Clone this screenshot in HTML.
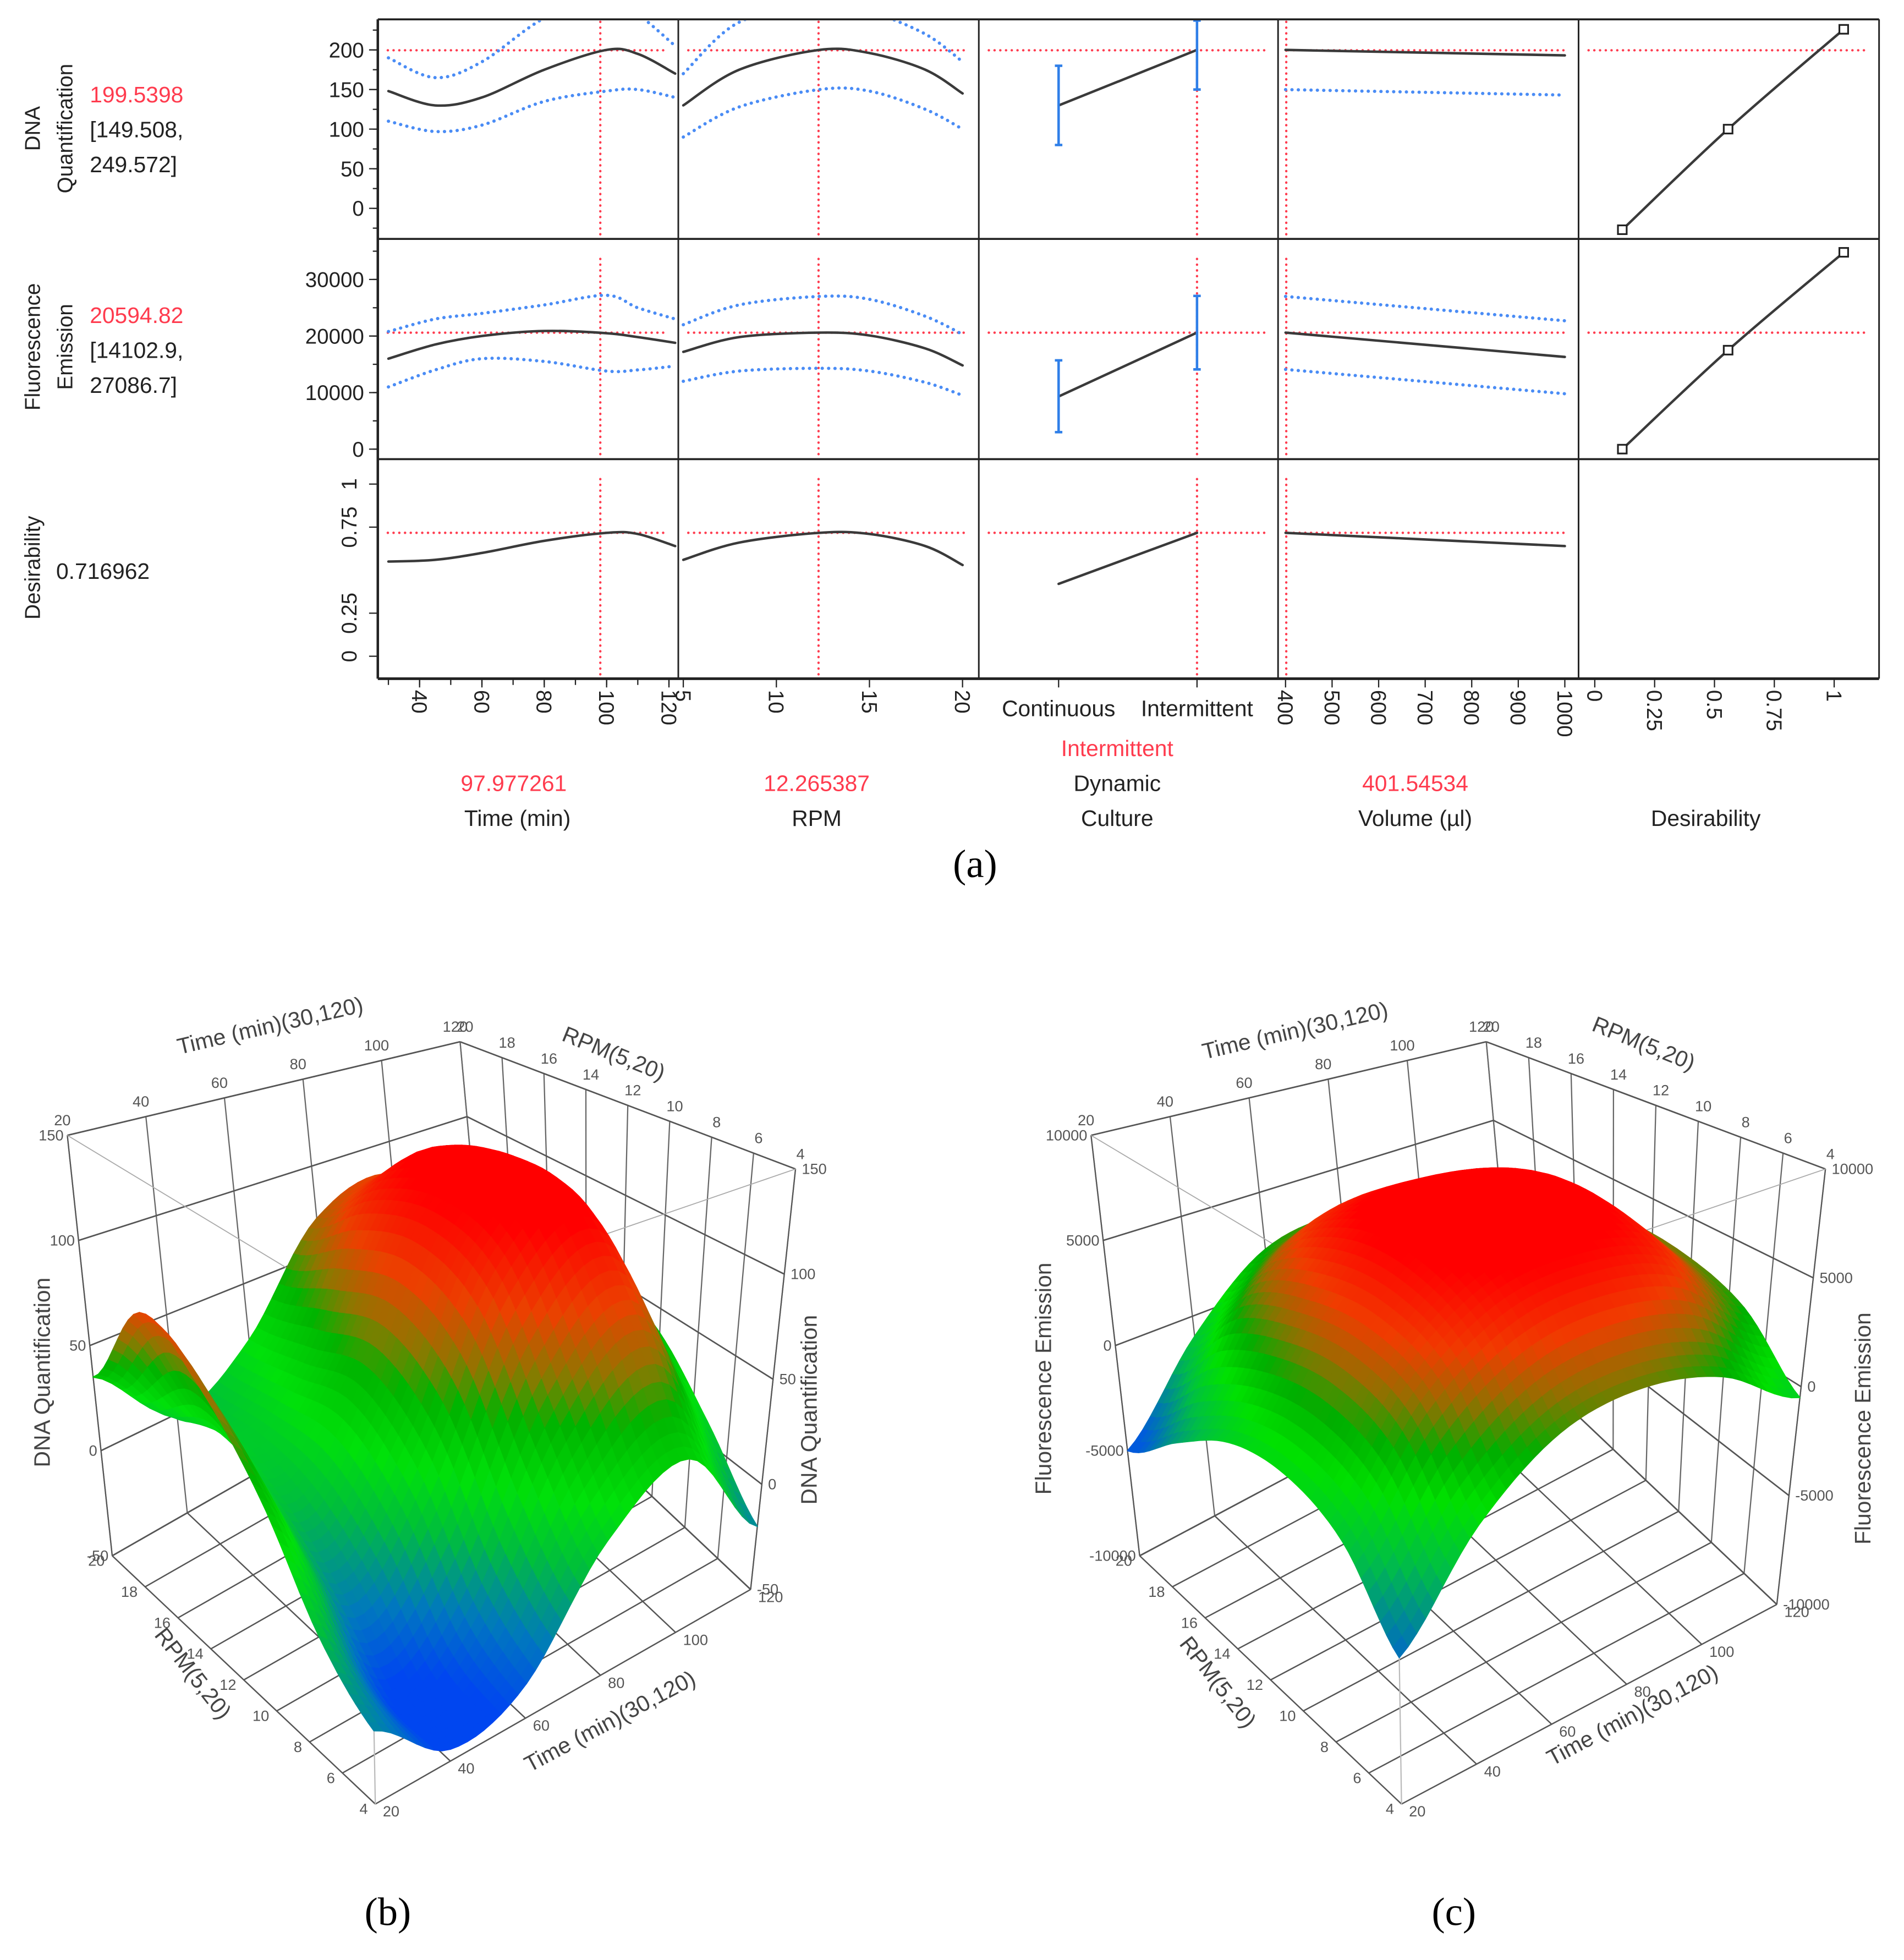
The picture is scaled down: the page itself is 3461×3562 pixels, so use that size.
<!DOCTYPE html>
<html><head><meta charset="utf-8">
<style>
html,body{margin:0;padding:0;background:#fff;}
svg{display:block;}
text{font-family:"Liberation Sans",sans-serif;}
</style></head>
<body>
<svg id="fig" xmlns="http://www.w3.org/2000/svg" width="3461" height="3562" viewBox="0 0 1527 1571" preserveAspectRatio="none">
<rect x="0" y="0" width="1527" height="1571" fill="#fff"/>
<g id="prof"></g>
<g id="plotB"></g>
<g id="plotC"></g>
<text x="782" y="703" font-size="32" text-anchor="middle" style="font-family:'Liberation Serif',serif">(a)</text>
<text x="311" y="1543" font-size="32" text-anchor="middle" style="font-family:'Liberation Serif',serif">(b)</text>
<text x="1166" y="1543" font-size="32" text-anchor="middle" style="font-family:'Liberation Serif',serif">(c)</text>
</svg>
<script>
// ---------- profiler data ----------
const timeX=[30,45,60,80,100,110,122];
const dnaTime=[148,130,140,175,200,195,170];
const dnaTimeHi=[190,165,185,240,265,245,205];
const dnaTimeLo=[110,97,105,135,148,150,140];
const fluTime=[16000,18500,20000,20900,20500,19800,18800];
const fluTimeHi=[20800,23000,24000,25500,27200,25000,23000];
const fluTimeLo=[11000,14000,16000,15500,13800,14000,14700];
const desTime=[0.55,0.56,0.6,0.67,0.717,0.71,0.64];
const rpmX=[5,8,12.3,15,18,20];
const dnaRpm=[130,175,200,196,175,145];
const dnaRpmHi=[170,235,255,248,220,185];
const dnaRpmLo=[90,128,150,148,125,100];
const fluRpm=[17200,19800,20600,20100,17800,14800];
const fluRpmHi=[22000,25500,27000,26500,23500,20300];
const fluRpmLo=[12000,13800,14300,13800,11800,9500];
const desRpm=[0.56,0.66,0.717,0.71,0.64,0.53];
const cultX=[0,1];
const dnaCult=[130,200], dnaCultLo=[80,150], dnaCultHi=[180,250];
const fluCult=[9300,20600], fluCultLo=[3000,14100], fluCultHi=[15700,27100];
const desCult=[0.42,0.717];
const volX=[400,1000];
const dnaVol=[200,193], dnaVolLo=[150,143], dnaVolHi=[250,243];
const fluVol=[20600,16300], fluVolHi=[27000,22700], fluVolLo=[14100,9800];
const desVol=[0.717,0.64];
const desX=[0.115,0.557,1.04];
const dnaDes=[-27,100,226];
const fluDes=[0,17500,34800];
const currentX=[97.977261,12.265387,1,401.54534];
const currentY=[199.5398,20594.82,0.716962];
const timeTicks=[40,60,80,100,120], rpmTicks=[5,10,15,20], volTicks=[400,500,600,700,800,900,1000], desTicks=[0,0.25,0.5,0.75,1];
const dnaTicks=[0,50,100,150,200], fluTicks=[0,10000,20000,30000], desYTicks=[0,0.25,0.75,1];

const NS="http://www.w3.org/2000/svg";
function mk(tag,attrs,parent){const e=document.createElementNS(NS,tag);for(const k in attrs)e.setAttribute(k,attrs[k]);parent.appendChild(e);return e;}
const prof=document.getElementById('prof');

const colX=[303,544,785,1025,1266,1507], rowY=[15.5,191.5,368,544];
const xs=[t=>336.5+2.5*(t-40), r=>548+14.93*(r-5), i=>[849,960][i], v=>1031+0.3733*(v-400), d=>1279+192*d];
const ys=[v=>167-0.635*v, v=>360-0.004533*v, v=>526-138*v];

function smooth(pts){
  if(pts.length<3){return 'M'+pts.map(p=>p[0].toFixed(1)+','+p[1].toFixed(1)).join(' L');}
  let d='M'+pts[0][0]+','+pts[0][1];
  for(let i=0;i<pts.length-1;i++){
    const p0=pts[Math.max(0,i-1)],p1=pts[i],p2=pts[i+1],p3=pts[Math.min(pts.length-1,i+2)];
    const c1=[p1[0]+(p2[0]-p0[0])/6,p1[1]+(p2[1]-p0[1])/6],c2=[p2[0]-(p3[0]-p1[0])/6,p2[1]-(p3[1]-p1[1])/6];
    d+=' C'+c1[0].toFixed(1)+','+c1[1].toFixed(1)+' '+c2[0].toFixed(1)+','+c2[1].toFixed(1)+' '+p2[0].toFixed(1)+','+p2[1].toFixed(1);
  }
  return d;
}
const defs=mk('defs',{},document.getElementById('fig'));
for(let r=0;r<3;r++)for(let c=0;c<5;c++){
  const cp=mk('clipPath',{id:'cl'+r+c},defs);
  mk('rect',{x:colX[c]+1,y:rowY[r]+1,width:colX[c+1]-colX[c]-2,height:rowY[r+1]-rowY[r]-2},cp);
}
function curve(r,c,xv,yv,kind,name){
  const pts=xv.map((x,i)=>[xs[c](x),ys[r](yv[i])]);
  const p=mk('path',{d:smooth(pts),fill:'none','clip-path':'url(#cl'+r+c+')',
    stroke:kind==='ci'?'#4a8cf5':'#3a3a3a','stroke-width':kind==='ci'?2.6:2,'stroke-dasharray':kind==='ci'?'0.1 5':'none','stroke-linecap':'round'},prof);
  
  
}
for(let r=0;r<3;r++){
  for(let c=0;c<5;c++){
    if(r===2&&c===4)continue;
    const y=ys[r](currentY[r]);
    const h=mk('line',{x1:colX[c]+8,x2:colX[c+1]-8,y1:y,y2:y,stroke:'#ff3b4e','stroke-width':1.9,'stroke-dasharray':'0.1 4.5','stroke-linecap':'round'},prof);
    
    
    if(c<4){
      const x=xs[c](currentX[c]);
      const v=mk('line',{x1:x,x2:x,y1:rowY[r]+(r===0?2:16),y2:rowY[r+1]-2,stroke:'#ff3b4e','stroke-width':1.9,'stroke-dasharray':'0.1 4.5','stroke-linecap':'round'},prof);
      
      
    }
  }
}
curve(0,0,timeX,dnaTimeHi,'ci','dna-time-upper');curve(0,0,timeX,dnaTimeLo,'ci','dna-time-lower');curve(0,0,timeX,dnaTime,'m','dna-time-curve');
curve(1,0,timeX,fluTimeHi,'ci','flu-time-upper');curve(1,0,timeX,fluTimeLo,'ci','flu-time-lower');curve(1,0,timeX,fluTime,'m','flu-time-curve');
curve(2,0,timeX,desTime,'m','des-time-curve');
curve(0,1,rpmX,dnaRpmHi,'ci','dna-rpm-upper');curve(0,1,rpmX,dnaRpmLo,'ci','dna-rpm-lower');curve(0,1,rpmX,dnaRpm,'m','dna-rpm-curve');
curve(1,1,rpmX,fluRpmHi,'ci','flu-rpm-upper');curve(1,1,rpmX,fluRpmLo,'ci','flu-rpm-lower');curve(1,1,rpmX,fluRpm,'m','flu-rpm-curve');
curve(2,1,rpmX,desRpm,'m','des-rpm-curve');
curve(0,2,cultX,dnaCult,'m','dna-culture-line');curve(1,2,cultX,fluCult,'m','flu-culture-line');curve(2,2,cultX,desCult,'m','des-culture-line');
curve(0,3,volX,dnaVolHi,'ci','dna-vol-upper');curve(0,3,volX,dnaVolLo,'ci','dna-vol-lower');curve(0,3,volX,dnaVol,'m','dna-vol-line');
curve(1,3,volX,fluVolHi,'ci','flu-vol-upper');curve(1,3,volX,fluVolLo,'ci','flu-vol-lower');curve(1,3,volX,fluVol,'m','flu-vol-line');
curve(2,3,volX,desVol,'m','des-vol-line');
curve(0,4,desX,dnaDes,'m','dna-desirability-line');curve(1,4,desX,fluDes,'m','flu-desirability-line');
[[0,dnaCultLo,dnaCultHi],[1,fluCultLo,fluCultHi]].forEach(([r,lo,hi])=>{
  cultX.forEach((ci,i)=>{
    const x=xs[2](ci),y1=Math.max(ys[r](hi[i]),rowY[r]+1),y2=ys[r](lo[i]);
    const g=mk('path',{d:`M${x},${y1}V${y2}M${x-3},${y1}H${x+3}M${x-3},${y2}H${x+3}`,stroke:'#2f7fe8','stroke-width':2,fill:'none'},prof);
    
    
  });
});
[[0,dnaDes],[1,fluDes]].forEach(([r,vals])=>{
  desX.forEach((d,i)=>{
    const s=mk('rect',{x:xs[4](d)-3.5,y:ys[r](vals[i])-3.5,width:7,height:7,fill:'#fff',stroke:'#222','stroke-width':1.4},prof);
    
    
  });
});
for(let c=0;c<6;c++){const l=mk('line',{x1:colX[c],x2:colX[c],y1:rowY[0],y2:rowY[3],stroke:'#222','stroke-width':c===0?2:1.3},prof);}
for(let r=0;r<4;r++){const l=mk('line',{x1:colX[0],x2:colX[5],y1:rowY[r],y2:rowY[r],stroke:'#222','stroke-width':r===3?2.2:1.6},prof);}
function ylab(txt,x,y,rot,name){const t=mk('text',{x:x,y:y,'font-size':17,fill:'#222','text-anchor':rot?'middle':'end',transform:rot?`rotate(-90 ${x} ${y})`:''},prof);t.textContent=txt;}
dnaTicks.forEach(v=>{const y=ys[0](v);ylab(String(v),292,y+6,false,'dna-y-tick');mk('line',{x1:296,x2:303,y1:y,y2:y,stroke:'#222'},prof);});
fluTicks.forEach(v=>{const y=ys[1](v);ylab(String(v),292,y+6,false,'flu-y-tick');mk('line',{x1:296,x2:303,y1:y,y2:y,stroke:'#222'},prof);});
desYTicks.forEach(v=>{const y=ys[2](v);ylab(String(v),286,y,true,'des-y-tick');mk('line',{x1:296,x2:303,y1:y,y2:y,stroke:'#222'},prof);});
for(let v=-25;v<=235;v+=25){const y=ys[0](v);mk('line',{x1:299,x2:303,y1:y,y2:y,stroke:'#222'},prof);}
for(let v=0;v<=35000;v+=5000){const y=ys[1](v);mk('line',{x1:299,x2:303,y1:y,y2:y,stroke:'#222'},prof);}
function xlab(txt,x,name){const t=mk('text',{x:x,y:553,'font-size':17,fill:'#222',transform:`rotate(90 ${x} 553)`,dy:'6'},prof);t.textContent=txt;mk('line',{x1:x,x2:x,y1:544,y2:551,stroke:'#222'},prof);}
timeTicks.forEach(v=>xlab(String(v),xs[0](v),'time-x-tick'));
for(let v=30;v<=120;v+=10){const x=xs[0](v);mk('line',{x1:x,x2:x,y1:544,y2:549,stroke:'#222'},prof);}
rpmTicks.forEach(v=>xlab(String(v),xs[1](v),'rpm-x-tick'));
volTicks.forEach(v=>xlab(String(v),xs[3](v),'volume-x-tick'));
desTicks.forEach(v=>xlab(String(v),xs[4](v),'desirability-x-tick'));
function txt(s,x,y,fill,size,anchor,name,rot){const t=mk('text',{x:x,y:y,'font-size':size,fill:fill,'text-anchor':anchor||'middle'},prof);if(rot)t.setAttribute('transform',`rotate(-90 ${x} ${y})`);t.textContent=s;return t;}
txt('Continuous',849,574,'#222',18,'middle','culture-tick-continuous');
txt('Intermittent',960,574,'#222',18,'middle','culture-tick-intermittent');
mk('line',{x1:849,x2:849,y1:544,y2:551,stroke:'#222'},prof);mk('line',{x1:960,x2:960,y1:544,y2:551,stroke:'#222'},prof);
txt('Intermittent',896,606,'#ff3b4e',18,'middle','culture-current-value');
txt('97.977261',412,634,'#ff3b4e',18,'middle','time-current-value');
txt('12.265387',655,634,'#ff3b4e',18,'middle','rpm-current-value');
txt('Dynamic',896,634,'#222',18,'middle','culture-title-1');
txt('401.54534',1135,634,'#ff3b4e',18,'middle','volume-current-value');
txt('Time (min)',415,662,'#222',18,'middle','time-axis-title');
txt('RPM',655,662,'#222',18,'middle','rpm-axis-title');
txt('Culture',896,662,'#222',18,'middle','culture-axis-title');
txt('Volume (µl)',1135,662,'#222',18,'middle','volume-axis-title');
txt('Desirability',1368,662,'#222',18,'middle','desirability-axis-title');
txt('DNA',32,103,'#222',17,'middle','dna-response-title',true);
txt('Quantification',58,103,'#222',17,'middle','dna-response-title-2',true);
txt('199.5398',72,82,'#ff3b4e',18,'start','dna-predicted-value');
txt('[149.508,',72,110,'#222',18,'start','dna-ci-low');
txt('249.572]',72,138,'#222',18,'start','dna-ci-high');
txt('Fluorescence',32,278,'#222',17,'middle','flu-response-title',true);
txt('Emission',58,278,'#222',17,'middle','flu-response-title-2',true);
txt('20594.82',72,259,'#ff3b4e',18,'start','flu-predicted-value');
txt('[14102.9,',72,287,'#222',18,'start','flu-ci-low');
txt('27086.7]',72,315,'#222',18,'start','flu-ci-high');
txt('Desirability',32,455,'#222',17,'middle','desirability-response-title',true);
txt('0.716962',45,464,'#222',18,'start','desirability-value');

// ---------- 3D surfaces data ----------
const timeGrid=[20,40,60,80,100,120];
const rpmGrid=[4,7.2,10.4,13.6,16.8,20];
const dnaSurface=[ // rows: rpm, cols: time
 [-20,-45,-35,10,30,-20],
 [0,-45,-20,50,80,10],
 [40,-20,20,100,122,40],
 [70,0,40,112,128,50],
 [85,10,30,100,115,40],
 [35,0,20,70,80,30]];
const fluSurface=[
 [-4000,0,2500,3000,2000,-500],
 [-1000,3500,6000,6500,5500,2000],
 [0,4500,7500,8000,7000,3000],
 [-500,4000,7500,8000,7000,3000],
 [-2500,2500,5500,6000,5000,1500],
 [-5000,-1000,2000,2500,1500,-1000]];
const dnaZTicks=[-50,0,50,100,150];
const fluZTicks=[-10000,-5000,0,5000,10000];
const time3dTicks=[20,40,60,80,100,120];
const rpm3dTicks=[4,6,8,10,12,14,16,18,20];

function lerp(a,b,t){return [a[0]+(b[0]-a[0])*t,a[1]+(b[1]-a[1])*t];}
function bil(F,R,L,B,u,v){return lerp(lerp(F,R,u),lerp(L,B,u),v);}
function cr(p0,p1,p2,p3,t){return 0.5*((2*p1)+(-p0+p2)*t+(2*p0-5*p1+4*p2-p3)*t*t+(-p0+3*p1-3*p2+p3)*t*t*t);}
function draw3D(gid,cfg){
  const g=document.getElementById(gid);
  const P=(t,r,z)=>{const u=(t-20)/100,v=(r-4)/16,w=(z-cfg.zmin)/(cfg.zmax-cfg.zmin);
    const b=bil(cfg.bot.F,cfg.bot.R,cfg.bot.L,cfg.bot.B,u,v),tp=bil(cfg.top.F,cfg.top.R,cfg.top.L,cfg.top.B,u,v);return lerp(b,tp,w);};
  const ln=(a,b,col,w,name)=>{const l=mk('line',{x1:a[0],y1:a[1],x2:b[0],y2:b[1],stroke:col,'stroke-width':w},g);};
  const zt=cfg.zTicks,zmn=cfg.zmin,zmx=cfg.zmax;
  time3dTicks.forEach(t=>ln(P(t,20,zmn),P(t,20,zmx),'#666',1,'back-wall-grid'));
  rpm3dTicks.forEach(r=>ln(P(120,r,zmn),P(120,r,zmx),'#666',1,'side-wall-grid'));
  zt.forEach(z=>{ln(P(20,20,z),P(120,20,z),'#555',1.2,'z-grid');ln(P(120,20,z),P(120,4,z),'#555',1.2,'z-grid');});
  time3dTicks.forEach(t=>ln(P(t,4,zmn),P(t,20,zmn),'#555',1.1,'floor-grid'));
  rpm3dTicks.forEach(r=>ln(P(20,r,zmn),P(120,r,zmn),'#555',1.1,'floor-grid'));
  ln(P(20,4,zmn),P(20,4,zmx),'#bbb',1,'front-edge');
  ln(P(20,20,zmn),P(20,20,zmx),'#555',1,'left-edge');
  ln(P(120,4,zmn),P(120,4,zmx),'#555',1,'right-edge');
  ln(P(20,20,zmx),P(20,4,zmx),'#aaa',0.8,'top-edge');ln(P(20,4,zmx),P(120,4,zmx),'#aaa',0.8,'top-edge');
  const m=cfg.mat,nI=timeGrid.length,nJ=rpmGrid.length;
  const M=(i,j)=>m[Math.max(0,Math.min(nJ-1,j))][Math.max(0,Math.min(nI-1,i))];
  const zAt=(i,j,a,b)=>{const row=k=>cr(M(i-1,k),M(i,k),M(i+1,k),M(i+2,k),a);return cr(row(j-1),row(j),row(j+1),row(j+2),b);};
  const N=9,quads=[];
  for(let j=0;j<nJ-1;j++)for(let i=0;i<nI-1;i++)for(let b=0;b<N;b++)for(let a=0;a<N;a++){
    const a0=a/N,a1=(a+1)/N,b0=b/N,b1=(b+1)/N;
    const t0=timeGrid[i]+(timeGrid[i+1]-timeGrid[i])*a0,t1=timeGrid[i]+(timeGrid[i+1]-timeGrid[i])*a1;
    const r0=rpmGrid[j]+(rpmGrid[j+1]-rpmGrid[j])*b0,r1=rpmGrid[j]+(rpmGrid[j+1]-rpmGrid[j])*b1;
    const zs=[zAt(i,j,a0,b0),zAt(i,j,a1,b0),zAt(i,j,a1,b1),zAt(i,j,a0,b1)];
    const pts=[P(t0,r0,zs[0]),P(t1,r0,zs[1]),P(t1,r1,zs[2]),P(t0,r1,zs[3])];
    quads.push({pts,z:(zs[0]+zs[1]+zs[2]+zs[3])/4,d:(t0+t1)/200+(r0+r1)/32});
  }
  quads.sort((p,q)=>q.d-p.d);
  const sg=mk('g',{},g);
  
  
  quads.forEach(q=>{const c=cfg.color(q.z);mk('polygon',{points:q.pts.map(p=>p[0].toFixed(1)+','+p[1].toFixed(1)).join(' '),fill:c,stroke:c,'stroke-width':0.9,'stroke-linejoin':'round'},sg);});
  const lab=(s,p,dx,dy,anchor,size,name)=>{const t=mk('text',{x:p[0]+dx,y:p[1]+dy,'font-size':size||12,fill:'#555','text-anchor':anchor||'middle'},g);t.textContent=s;};
  time3dTicks.forEach(t=>lab(String(t),P(t,20,zmx),-4,-8,'middle',12,'top-time-tick'));
  rpm3dTicks.forEach(r=>lab(String(r),P(120,r,zmx),4,-8,'middle',12,'top-rpm-tick'));
  zt.forEach(z=>{lab(String(z),P(20,20,z),-3,4,'end',12,'left-z-tick');lab(String(z),P(120,4,z),5,4,'start',12,'right-z-tick');});
  rpm3dTicks.forEach(r=>lab(String(r),P(20,r,zmn),-6,8,'end',12,'floor-rpm-tick'));
  time3dTicks.forEach(t=>lab(String(t),P(t,4,zmn),6,10,'start',12,'floor-time-tick'));
  cfg.titles.forEach(([s,x,y,rot,name])=>{const t=mk('text',{x:x,y:y,'font-size':18,fill:'#444','text-anchor':'middle',transform:`rotate(${rot} ${x} ${y})`},g);t.textContent=s;});
}
function ramp(stops){return z=>{if(z<=stops[0][0])return `rgb(${stops[0][1]})`;for(let i=1;i<stops.length;i++){if(z<=stops[i][0]){const f=(z-stops[i-1][0])/(stops[i][0]-stops[i-1][0]);const a=stops[i-1][1],b=stops[i][1];return `rgb(${a.map((v,k)=>Math.round(v+(b[k]-v)*f)).join(',')})`;}}return `rgb(${stops[stops.length-1][1]})`;};}
draw3D('plotB',{zmin:-50,zmax:150,zTicks:dnaZTicks,mat:dnaSurface,
  bot:{F:[301,1446],R:[602,1274],L:[90,1247],B:[391,1075]},
  top:{F:[294,1055],R:[638,937],L:[54,910],B:[369,835]},
  color:ramp([[-42,[0,70,240]],[-25,[0,120,190]],[0,[0,190,60]],[20,[0,225,10]],[45,[0,180,0]],[62,[140,120,0]],[85,[235,65,0]],[115,[255,0,0]]]),
  titles:[['Time (min)(30,120)',218,828,-13,'top-time-title'],['RPM(5,20)',490,850,22,'top-rpm-title'],
    ['DNA Quantification',40,1100,-90,'left-z-title'],['DNA Quantification',655,1130,-90,'right-z-title'],
    ['RPM(5,20)',150,1345,52,'floor-rpm-title'],['Time (min)(30,120)',492,1385,-28,'floor-time-title']]});
draw3D('plotC',{zmin:-10000,zmax:10000,zTicks:fluZTicks,mat:fluSurface,
  bot:{F:[1124,1446],R:[1425,1286],L:[914,1247],B:[1215,1087]},
  top:{F:[1118,1055],R:[1464,937],L:[875,910],B:[1192,835]},
  color:ramp([[-4500,[0,90,220]],[-1500,[0,190,70]],[500,[0,225,0]],[2000,[0,175,0]],[3500,[150,110,0]],[5000,[240,60,0]],[7000,[255,0,0]]]),
  titles:[['Time (min)(30,120)',1040,832,-13,'top-time-title'],['RPM(5,20)',1316,842,22,'top-rpm-title'],
    ['Fluorescence Emission',843,1105,-90,'left-z-title'],['Fluorescence Emission',1500,1145,-90,'right-z-title'],
    ['RPM(5,20)',972,1352,52,'floor-rpm-title'],['Time (min)(30,120)',1312,1380,-28,'floor-time-title']]});
</script>
</body></html>
